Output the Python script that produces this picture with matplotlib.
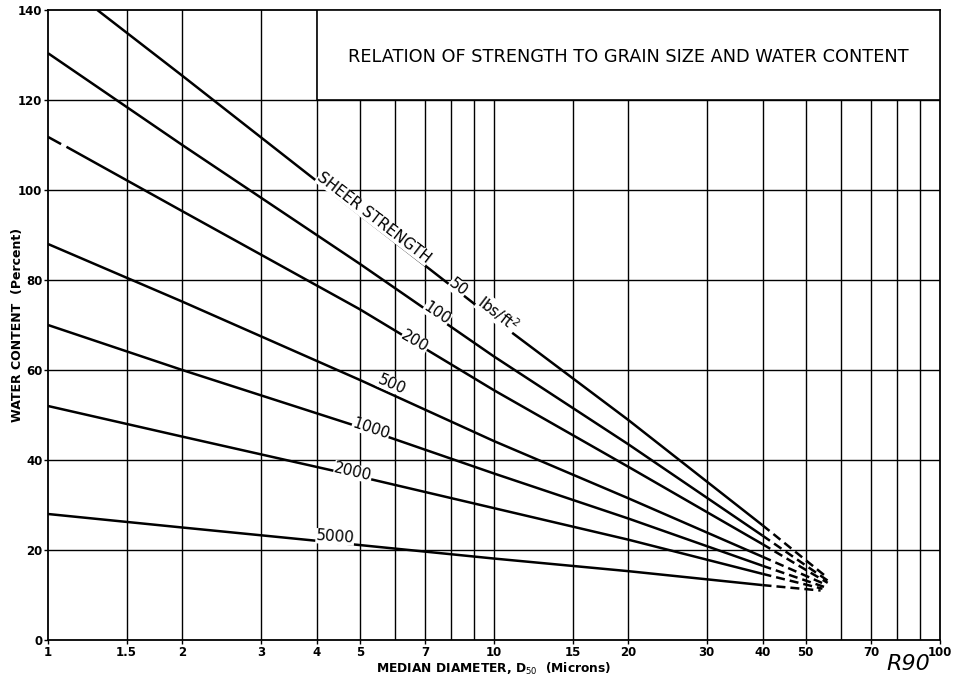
import numpy as np
import matplotlib.pyplot as plt
from matplotlib.patches import Rectangle
from matplotlib.ticker import FixedLocator, FixedFormatter, NullLocator

# 剪切强度 (lbs/ft^2) 各曲线
labels = ['50', '100', '200', '500', '1000', '2000', '5000']

# 实线部分 (x: 中值粒径, 微米; y: 含水量 %)
x_50 = [1.29, 2, 5, 10, 20, 40]
y_50 = [140, 125.4, 94.5, 71.3, 48.9, 25.5]
x_std = [1, 2, 5, 10, 20, 40]
y_100 = [130.4, 110.0, 83.6, 63.0, 43.5, 23.2]
x_200 = [1.1, 2, 5, 10, 20, 40]
y_200 = [109.6, 95.3, 73.5, 55.5, 38.5, 21.3]
y_500 = [88, 75.2, 57.8, 44.2, 31.5, 18.5]
y_1000 = [70, 60, 47.3, 37.0, 27.0, 16.5]
y_2000 = [52, 45.2, 36.3, 29.3, 22.3, 14.7]
y_5000 = [28, 25, 21.1, 18.1, 15.3, 12.2]

# 200 曲线起点的短划
x_200_lead = [1, 1.07]
y_200_lead = [111.8, 110.2]

# 虚线外推终点
x_end = [56, 56, 56, 55.5, 55, 54.5, 54]
y_end = [13.8, 13.2, 12.7, 12.3, 11.8, 11.4, 11.0]

xs = [x_50, x_std, x_200, x_std, x_std, x_std, x_std]
ys = [y_50, y_100, y_200, y_500, y_1000, y_2000, y_5000]

# 坐标轴刻度
x_grid = [1.5, 2, 3, 4, 5, 6, 7, 8, 9, 10, 15, 20, 30, 40, 50, 60, 70, 80, 90]
x_ticks = [1, 1.5, 2, 3, 4, 5, 7, 10, 15, 20, 30, 40, 50, 70, 100]
x_ticklabels = ['1', '1.5', '2', '3', '4', '5', '7', '10', '15', '20', '30', '40', '50', '70', '100']
y_ticks = [0, 20, 40, 60, 80, 100, 120, 140]

# 曲线标注 (文字, x, y, 角度)
annots = [
    ('SHEER STRENGTH', 5.38, 93.8, -37.5),
    ('50', 8.3, 78.3, -37.5),
    ('lbs/ft$^2$', 10.2, 72.6, -37.5),
    ('100', 7.45, 72.6, -34),
    ('200', 6.65, 66.4, -30),
    ('500', 5.9, 56.8, -23.5),
    ('1000', 5.3, 47.0, -18.5),
    ('2000', 4.83, 37.4, -13),
    ('5000', 4.4, 22.9, -4),
]

fig = plt.figure(figsize=(9.64, 6.8), dpi=100)
ax = fig.add_axes([48 / 964, 40 / 680, 892 / 964, 630 / 680])

ax.set_xscale('log')
ax.set_xlim(1, 100)
ax.set_ylim(0, 140)

# 网格
for gx in x_grid:
    ax.axvline(gx, color='black', lw=1.0, zorder=1)
for gy in y_ticks[1:-1]:
    ax.axhline(gy, color='black', lw=1.0, zorder=1)

# 曲线
for x, y, xe, ye in zip(xs, ys, x_end, y_end):
    ax.plot(x, y, color='black', lw=1.8, zorder=3, solid_capstyle='butt')
    ax.plot([x[-1], xe], [y[-1], ye], color='black', lw=1.8, zorder=3,
            linestyle=(0, (3.6, 2.0)), dash_capstyle='butt')
ax.plot(x_200_lead, y_200_lead, color='black', lw=1.8, zorder=3, solid_capstyle='butt')

# 标注
for txt, tx, ty, rot in annots:
    ax.text(tx, ty, txt, rotation=rot, rotation_mode='anchor', ha='center', va='center',
            fontsize=11, family='DejaVu Sans', zorder=5,
            bbox=dict(facecolor='white', edgecolor='none', pad=0.1))

# 标题框
ax.add_patch(Rectangle((4, 120), 96, 20, facecolor='white', edgecolor='black',
                       lw=1.2, zorder=4))
ax.text(20, 129.5, 'RELATION OF STRENGTH TO GRAIN SIZE AND WATER CONTENT',
        ha='center', va='center', fontsize=12.8, zorder=5)

# 坐标轴
ax.xaxis.set_major_locator(FixedLocator(x_ticks))
ax.xaxis.set_major_formatter(FixedFormatter(x_ticklabels))
ax.xaxis.set_minor_locator(NullLocator())
ax.set_yticks(y_ticks)
ax.tick_params(axis='both', direction='out', length=3, width=1, labelsize=8.5, pad=1)
for lab in ax.get_xticklabels() + ax.get_yticklabels():
    lab.set_fontweight('bold')
for s in ax.spines.values():
    s.set_linewidth(1.3)

ax.set_xlabel('MEDIAN DIAMETER, D$_{50}$  (Microns)', fontsize=8.8, fontweight='bold', labelpad=2)
ax.set_ylabel('WATER CONTENT  (Percent)', fontsize=9, fontweight='bold')
ax.yaxis.set_label_coords(-0.027, 0.5)

fig.text(908 / 964, 1 - 664 / 680, 'R90', fontsize=16, style='italic', ha='center', va='center')

fig.savefig('out.png', dpi=100)
